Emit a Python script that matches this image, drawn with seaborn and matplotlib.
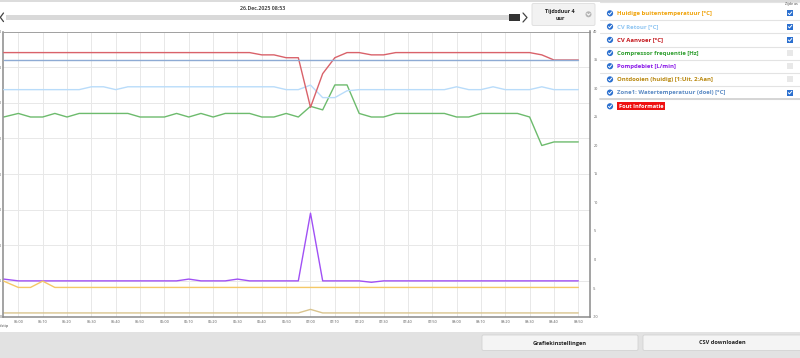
import matplotlib
matplotlib.use("Agg")
import matplotlib.pyplot as plt
import seaborn as sns
import pandas as pd
from matplotlib.patches import Rectangle, Circle, FancyBboxPatch
from matplotlib.lines import Line2D

sns.set_theme(style="white")
plt.rcParams['font.family'] = ['Open Sans', 'DejaVu Sans']

# ---------------- data ----------------
times = ["04:54", "05:00", "05:05", "05:10", "05:15", "05:20", "05:25", "05:30",
         "05:35", "05:40", "05:45", "05:50", "05:55", "06:00", "06:05", "06:10",
         "06:15", "06:20", "06:25", "06:30", "06:35", "06:40", "06:45", "06:50",
         "06:55", "07:00", "07:05", "07:10", "07:15", "07:20", "07:25", "07:30",
         "07:35", "07:40", "07:45", "07:50", "07:55", "08:00", "08:05", "08:10",
         "08:15", "08:20", "08:25", "08:30", "08:35", "08:40", "08:45", "08:50"]

tick_labels = ["05:00", "05:10", "05:20", "05:30", "05:40", "05:50", "06:00",
               "06:10", "06:20", "06:30", "06:40", "06:50", "07:00", "07:10",
               "07:20", "07:30", "07:40", "07:50", "08:00", "08:10", "08:20",
               "08:30", "08:40", "08:50"]

# right axis (°C)
buitentemp = [-3.8, -4.9, -4.9, -3.8, -4.9, -4.9, -4.9, -4.9, -4.9, -4.9, -4.9, -4.9,
              -4.9, -4.9, -4.9, -4.9, -4.9, -4.9, -4.9, -4.9, -4.9, -4.9, -4.9, -4.9,
              -4.9, -4.9, -4.9, -4.9, -4.9, -4.9, -4.9, -4.9, -4.9, -4.9, -4.9, -4.9,
              -4.9, -4.9, -4.9, -4.9, -4.9, -4.9, -4.9, -4.9, -4.9, -4.9, -4.9, -4.9]
cv_retour = [29.8, 29.8, 29.8, 29.8, 29.8, 29.8, 29.8, 30.3, 30.3, 29.8, 30.3, 30.3,
             30.3, 30.3, 30.3, 30.3, 30.3, 30.3, 30.3, 30.3, 30.3, 30.3, 30.3, 29.8,
             29.8, 30.6, 28.4, 28.4, 29.6, 29.8, 29.8, 29.8, 29.8, 29.8, 29.8, 29.8,
             29.8, 30.3, 29.8, 29.8, 30.3, 29.8, 29.8, 29.8, 30.3, 29.8, 29.8, 29.8]
cv_aanvoer = [36.3, 36.3, 36.3, 36.3, 36.3, 36.3, 36.3, 36.3, 36.3, 36.3, 36.3, 36.3,
              36.3, 36.3, 36.3, 36.3, 36.3, 36.3, 36.3, 36.3, 36.3, 35.9, 35.9, 35.4,
              35.4, 26.7, 32.6, 35.4, 36.3, 36.3, 35.9, 35.9, 36.3, 36.3, 36.3, 36.3,
              36.3, 36.3, 36.3, 36.3, 36.3, 36.3, 36.3, 36.3, 35.9, 35.0, 35.0, 35.0]
zone1_doel = [35.0] * 48  # constant set point

# left axis
compressor = [56, 57, 56, 56, 57, 56, 57, 57, 57, 57, 57, 56,
              56, 56, 57, 56, 57, 56, 57, 57, 57, 56, 56, 57,
              56, 59, 58, 65, 65, 57, 56, 56, 57, 57, 57, 57,
              57, 56, 56, 57, 57, 57, 57, 56, 48, 49, 49, 49]
pompdebiet = [10.5, 10, 10, 10, 10, 10, 10, 10, 10, 10, 10, 10,
              10, 10, 10, 10.5, 10, 10, 10, 10.5, 10, 10, 10, 10,
              10, 29, 10, 10, 10, 10, 9.6, 10, 10, 10, 10, 10,
              10, 10, 10, 10, 10, 10, 10, 10, 10, 10, 10, 10]
ontdooien = [1, 1, 1, 1, 1, 1, 1, 1, 1, 1, 1, 1,
             1, 1, 1, 1, 1, 1, 1, 1, 1, 1, 1, 1,
             1, 2, 1, 1, 1, 1, 1, 1, 1, 1, 1, 1,
             1, 1, 1, 1, 1, 1, 1, 1, 1, 1, 1, 1]

legend_labels = ["Huidige buitentemperatuur [°C]", "CV Retour [°C]", "CV Aanvoer [°C]",
                 "Compressor frequentie [Hz]", "Pompdebiet [L/min]",
                 "Ontdooien (huidig) [1:Uit, 2:Aan]", "Zone1: Watertemperatuur (doel) [°C]"]
legend_colors = ["#f0a30a", "#8ec5f2", "#c4161c", "#2f9e2f", "#8b1be8", "#b8860b", "#5b8ac4"]
line_colors = ["#f5c867", "#b9dcfa", "#d9626a", "#6dbb6d", "#a050f5", "#d9c48e", "#8eabd4"]
zijde_as = [True, True, True, False, False, False, True]

left_ticks = [0, 10, 20, 30, 40, 50, 60, 70, 80]
right_ticks = [-10, -5, 0, 5, 10, 15, 20, 25, 30, 35, 40]


def to_min(s):
    h, m = s.split(":")
    return int(h) * 60 + int(m)


df = pd.DataFrame({
    "t": [to_min(t) for t in times],
    "buitentemp": buitentemp, "cv_retour": cv_retour, "cv_aanvoer": cv_aanvoer,
    "compressor": compressor, "pompdebiet": pompdebiet, "ontdooien": ontdooien,
    "zone1_doel": zone1_doel,
})

# ---------------- figure ----------------
W, H = 800, 358
fig = plt.figure(figsize=(8, 3.58), dpi=100)
fig.patch.set_facecolor("white")


def px_rect(x0, y0, x1, y1):
    return [x0 / W, 1 - y1 / H, (x1 - x0) / W, (y1 - y0) / H]


ui = fig.add_axes([0, 0, 1, 1], zorder=0)
ui.set_xlim(0, W)
ui.set_ylim(H, 0)
ui.axis("off")

ax = fig.add_axes(px_rect(3, 31.5, 590, 316.5), zorder=2)
ax2 = ax.twinx()

lw = 1.0
sns.lineplot(data=df, x="t", y="compressor", ax=ax, color=line_colors[3], lw=lw)
sns.lineplot(data=df, x="t", y="pompdebiet", ax=ax, color=line_colors[4], lw=lw)
sns.lineplot(data=df, x="t", y="ontdooien", ax=ax, color=line_colors[5], lw=lw)
sns.lineplot(data=df, x="t", y="buitentemp", ax=ax2, color=line_colors[0], lw=lw)
sns.lineplot(data=df, x="t", y="cv_retour", ax=ax2, color=line_colors[1], lw=lw)
sns.lineplot(data=df, x="t", y="cv_aanvoer", ax=ax2, color=line_colors[2], lw=lw)
sns.lineplot(data=df, x="t", y="zone1_doel", ax=ax2, color=line_colors[6], lw=lw)

for a in (ax, ax2):
    a.set_xlabel("")
    a.set_ylabel("")

ax.set_xlim(293.7, 534.8)
ax.set_ylim(left_ticks[0], left_ticks[-1])
ax.set_yticks(left_ticks)
ax.set_yticklabels([str(v) for v in left_ticks])
ax2.set_ylim(right_ticks[0], right_ticks[-1])
ax2.set_yticks(right_ticks)
ax2.set_yticklabels([str(v) for v in right_ticks])
ax.set_xticks([to_min(s) for s in tick_labels])
ax.set_xticklabels(tick_labels)

ax.tick_params(axis="y", length=0, pad=1, labelsize=2.6, colors="#555555")
ax.tick_params(axis="x", length=0, pad=2.2, labelsize=2.7, colors="#555555")
ax2.tick_params(axis="y", length=0, pad=2.4, labelsize=2.7, colors="#555555")

ax.grid(True, color="#e8e8e8", lw=0.7)
ax.set_axisbelow(True)
ax2.grid(False)

for s in ("left", "bottom"):
    ax.spines[s].set_color("#8a8a8a")
    ax.spines[s].set_linewidth(1.1)
ax.spines["top"].set_color("#a0a0a0")
ax.spines["top"].set_linewidth(0.7)
ax.spines["right"].set_visible(False)
for s in ("left", "bottom", "top"):
    ax2.spines[s].set_visible(False)
ax2.spines["right"].set_color("#8a8a8a")
ax2.spines["right"].set_linewidth(1.1)

ui.text(8.5, 326.5, "Tijdstip", ha="right", va="center", fontsize=2.8, color="#444444")

# ---------------- header UI ----------------
ui.add_patch(Rectangle((0, 0), W, 1.5, color="#dcdcdc", lw=0))
ui.text(263, 9, "26.Dec.2025 08:53", ha="center", va="center", fontsize=3.8,
        fontweight="semibold", color="#222222")
ui.add_patch(Rectangle((6, 14.5), 504, 5.5, color="#d9d9d9", lw=0))
ui.add_patch(Rectangle((509, 14), 11, 7, color="#333333", lw=0))
ui.add_line(Line2D([3.5, 0.3, 3.5], [13, 17.3, 21.6], color="#444444", lw=0.9))
ui.add_line(Line2D([523, 527, 523], [13, 17.5, 22], color="#444444", lw=0.9))

ui.add_patch(FancyBboxPatch((532, 3.5), 63, 22, boxstyle="round,pad=0,rounding_size=1.5",
                            fc="#f2f2f2", ec="#dddddd", lw=0.6))
ui.text(560, 11, "Tijdsduur 4", ha="center", va="center", fontsize=3.9,
        fontweight="bold", color="#222222")
ui.text(560, 18, "uur", ha="center", va="center", fontsize=3.9,
        fontweight="bold", color="#222222")
ui.add_patch(Circle((588.5, 14.3), 3.0, color="#b5b5b5", lw=0))
ui.add_line(Line2D([587, 588.5, 590], [13.6, 15.1, 13.6], color="white", lw=0.7))

# ---------------- legend panel ----------------
row_y = [13.3, 26.6, 39.9, 53.0, 66.2, 79.4, 92.6]
sep_y = [1.5, 20.0, 33.3, 46.5, 59.6, 72.8, 86.0, 99.3]
for sy in sep_y:
    ui.add_line(Line2D([600, 800], [sy, sy], color="#e3e3e3", lw=0.8))
ui.add_line(Line2D([600, 800], [99.3, 99.3], color="#d5d5d5", lw=1.4))
ui.text(791, 4.5, "Zijde as", ha="center", va="center", fontsize=2.6, color="#444444")


def check_circle(x, y):
    ui.add_patch(Circle((x, y), 3.1, color="#2a6fcf", lw=0))
    ui.add_line(Line2D([x - 1.5, x - 0.4, x + 1.6], [y + 0.1, y + 1.2, y - 1.3],
                       color="white", lw=0.7))


for i, (lab, col) in enumerate(zip(legend_labels, legend_colors)):
    y = row_y[i]
    check_circle(610, y)
    ui.text(617, y, lab, ha="left", va="center", fontsize=4.3, fontweight="bold", color=col)
    if zijde_as[i]:
        ui.add_patch(Rectangle((787, y - 3), 6, 6, color="#2a6fcf", lw=0))
        ui.add_line(Line2D([788.3, 789.5, 791.8], [y + 0.1, y + 1.3, y - 1.4],
                           color="white", lw=0.7))
    else:
        ui.add_patch(Rectangle((787, y - 3), 6, 6, color="#e8e8e8", lw=0))

fy = 106.3
check_circle(610, fy)
ui.add_patch(Rectangle((617, fy - 4), 48, 8, color="#ee1111", lw=0))
ui.text(619, fy, "Fout Informatie", ha="left", va="center", fontsize=4.1,
        fontweight="bold", color="white")

# ---------------- footer UI ----------------
ui.add_patch(Rectangle((0, 332), W, 26, color="#e2e2e2", lw=0))
ui.add_patch(FancyBboxPatch((482, 335), 156, 15.5, boxstyle="round,pad=0,rounding_size=1.5",
                            fc="#f4f4f4", ec="#d3d3d3", lw=0.6))
ui.add_patch(FancyBboxPatch((643, 335), 160, 15.5, boxstyle="round,pad=0,rounding_size=1.5",
                            fc="#f4f4f4", ec="#d3d3d3", lw=0.6))
ui.text(560, 343, "Grafiekinstellingen", ha="center", va="center", fontsize=4.1,
        fontweight="bold", color="#222222")
ui.text(722, 343, "CSV downloaden", ha="center", va="center", fontsize=4.1,
        fontweight="bold", color="#222222")

fig.savefig("out.png", dpi=100)
